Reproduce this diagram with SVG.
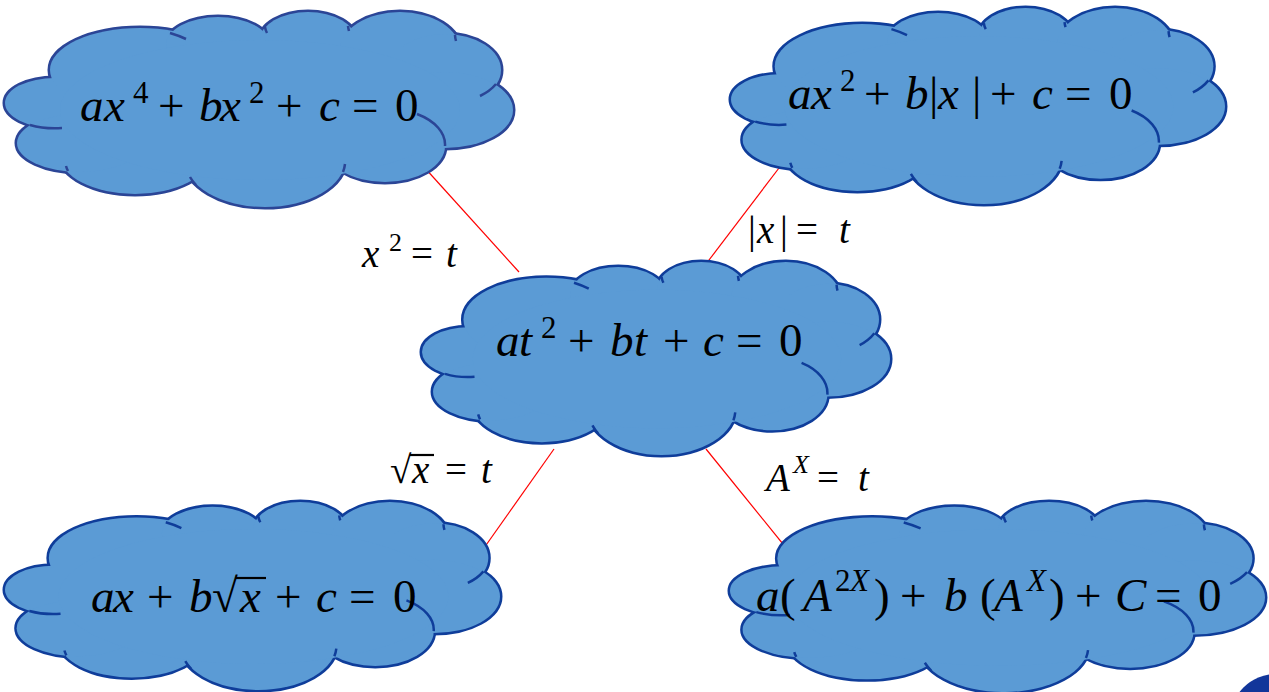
<svg xmlns="http://www.w3.org/2000/svg" xmlns:xlink="http://www.w3.org/1999/xlink" width="1269" height="692" viewBox="0 0 1269 692">
<style>
.lobe{vector-effect:non-scaling-stroke}
.cstroke{fill:none;stroke-width:5}
.cfill{fill:#5b9bd5;stroke:none}
.inner{fill:none;stroke-width:2.5;vector-effect:non-scaling-stroke}
.eq{font-family:"Liberation Serif","DejaVu Serif",serif;font-size:47px;fill:#000}
.lb{font-family:"Liberation Serif","DejaVu Serif",serif;font-size:39px;fill:#000}
.i{font-style:italic}
.sup{font-size:31px}
.lsup{font-size:26px}
.conn{stroke:#ff0000;stroke-width:1.2;fill:none}
.bar{stroke:#000;stroke-width:2.2}
</style>
<defs>
<g id="lobes">
<ellipse class="lobe" cx="55" cy="103" rx="50" ry="25"/>
<ellipse class="lobe" cx="140" cy="70" rx="90" ry="42"/>
<ellipse class="lobe" cx="218" cy="45" rx="52" ry="28"/>
<ellipse class="lobe" cx="308" cy="40" rx="48" ry="28"/>
<ellipse class="lobe" cx="400" cy="50" rx="60" ry="38"/>
<ellipse class="lobe" cx="445" cy="70" rx="56" ry="36"/>
<ellipse class="lobe" cx="445" cy="110" rx="68" ry="38"/>
<ellipse class="lobe" cx="385" cy="146" rx="60" ry="36"/>
<ellipse class="lobe" cx="265" cy="160" rx="80" ry="47"/>
<ellipse class="lobe" cx="135" cy="155" rx="75" ry="39"/>
<ellipse class="lobe" cx="80" cy="143" rx="63" ry="29"/>
</g>
<g id="cloud">
<use xlink:href="#lobes" class="cstroke"/>
<use xlink:href="#lobes" class="cfill"/>
<ellipse cx="260" cy="110" rx="200" ry="70" class="cfill"/>
<path class="inner" d="M170,33 A90,42 0 0 1 186,39 M265,27 A48,28 0 0 0 267,33 M348,26 A60,38 0 0 0 349,31 M455,35 A56,36 0 0 0 456,41 M496,84 A56,36 0 0 1 480,96 M445,146 A60,36 0 0 0 417,114 M343,172 A80,47 0 0 0 345,164 M196,185 A80,47 0 0 1 190,177 M68,171 A75,39 0 0 1 66,166 M30,125 A50,25 0 0 0 62,128"/>
</g>
</defs>

<g id="connectors">
<line class="conn" x1="424" y1="167" x2="519" y2="272"/>
<line class="conn" x1="779" y1="168" x2="706" y2="264"/>
<line class="conn" x1="554" y1="449" x2="484" y2="548"/>
<line class="conn" x1="706" y1="449" x2="787" y2="549"/>
</g>

<g id="node-quartic">
<use xlink:href="#cloud" stroke="#2b4596" transform="translate(5,12) scale(1,1) translate(-5,-12)"/>
<text class="eq" y="121"><tspan class="i" x="80">a</tspan><tspan class="i" x="104">x</tspan><tspan class="sup" x="133" y="103">4</tspan><tspan x="158" y="121">+</tspan><tspan class="i" x="199">b</tspan><tspan class="i" x="220">x</tspan><tspan class="sup" x="249" y="103">2</tspan><tspan x="276" y="121">+</tspan><tspan class="i" x="319">c</tspan><tspan x="352">=</tspan><tspan x="395">0</tspan></text>
</g>

<g id="node-abs">
<use xlink:href="#cloud" stroke="#0f3d9a" transform="translate(731,8) scale(0.9724,1.0051) translate(-5,-12)"/>
<text class="eq" y="109"><tspan class="i" x="788">a</tspan><tspan class="i" x="811">x</tspan><tspan class="sup" x="840" y="91">2</tspan><tspan x="864" y="109">+</tspan><tspan class="i" x="905">b</tspan><tspan x="929">|</tspan><tspan class="i" x="938">x</tspan><tspan x="972">|</tspan><tspan x="990">+</tspan><tspan class="i" x="1032">c</tspan><tspan x="1065">=</tspan><tspan x="1109">0</tspan></text>
</g>

<g id="node-center">
<use xlink:href="#cloud" stroke="#0f3d9a" transform="translate(422,262) scale(0.9213,0.9897) translate(-5,-12)"/>
<text class="eq" y="356"><tspan class="i" x="496">a</tspan><tspan class="i" x="519">t</tspan><tspan class="sup" x="541" y="338">2</tspan><tspan x="568" y="356">+</tspan><tspan class="i" x="610">b</tspan><tspan class="i" x="634">t</tspan><tspan x="663">+</tspan><tspan class="i" x="703">c</tspan><tspan x="736">=</tspan><tspan x="779">0</tspan></text>
</g>

<g id="node-sqrt">
<use xlink:href="#cloud" stroke="#0f3d9a" transform="translate(5,502) scale(0.9744,0.9641) translate(-5,-12)"/>
<text class="eq" y="612"><tspan class="i" x="91">a</tspan><tspan class="i" x="113">x</tspan><tspan x="147">+</tspan><tspan class="i" x="189">b</tspan><tspan x="212">√</tspan><tspan class="i" x="240">x</tspan><tspan x="275">+</tspan><tspan class="i" x="316">c</tspan><tspan x="349">=</tspan><tspan x="393">0</tspan></text>
<line class="bar" x1="235" y1="578" x2="266" y2="578"/>
</g>

<g id="node-exp">
<use xlink:href="#cloud" stroke="#0f3d9a" transform="translate(730,502) scale(1.0531,0.9744) translate(-5,-12)"/>
<text class="eq" y="611"><tspan class="i" x="756">a</tspan><tspan x="780">(</tspan><tspan class="i" x="803">A</tspan><tspan class="sup" x="835" y="591">2</tspan><tspan class="sup i" x="850" y="591">X</tspan><tspan x="874" y="611">)</tspan><tspan x="900">+</tspan><tspan class="i" x="944">b</tspan><tspan x="980">(</tspan><tspan class="i" x="994">A</tspan><tspan class="sup i" x="1027" y="591">X</tspan><tspan x="1049" y="611">)</tspan><tspan x="1075">+</tspan><tspan class="i" x="1115">C</tspan><tspan x="1155">=</tspan><tspan x="1198">0</tspan></text>
</g>

<g id="labels">
<text class="lb" y="267"><tspan class="i" x="362">x</tspan><tspan class="lsup" x="389" y="251">2</tspan><tspan x="411" y="267">=</tspan><tspan class="i" x="446">t</tspan></text>
<text class="lb" y="243"><tspan x="748">|</tspan><tspan class="i" x="757">x</tspan><tspan x="780">|</tspan><tspan x="796">=</tspan><tspan class="i" x="839">t</tspan></text>
<text class="lb" y="483"><tspan x="390">√</tspan><tspan class="i" x="412">x</tspan><tspan x="445">=</tspan><tspan class="i" x="481">t</tspan></text>
<line class="bar" x1="410" y1="455" x2="434" y2="455"/>
<text class="lb" y="491"><tspan class="i" x="766">A</tspan><tspan class="lsup i" x="793" y="473">X</tspan><tspan x="817" y="491">=</tspan><tspan class="i" x="858">t</tspan></text>
</g>

<circle cx="1276" cy="720" r="46" fill="#12369a"/>
</svg>
